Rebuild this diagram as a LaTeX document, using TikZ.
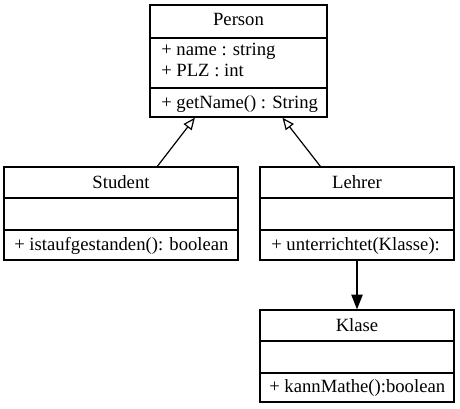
\documentclass[tikz,border=0pt]{standalone}
\usepackage{fontspec}
\setmainfont{Liberation Serif}
\usetikzlibrary{arrows.meta}
\begin{document}
\begin{tikzpicture}[x=0.75pt,y=-0.75pt,
  classbox/.style={draw, line width=1pt, rectangle, inner sep=0pt},
  umltext/.style={inner sep=0pt, font=\fontsize{14}{17}\selectfont},
  title/.style={umltext, anchor=base},
  member/.style={umltext, anchor=base west},
  divider/.style={line width=1pt},
  inherit/.style={line width=0.9pt, -{Triangle[open, length=9pt, width=7.5pt]}},
  assoc/.style={line width=0.9pt, -{Triangle[length=11pt, width=8.5pt]}}]
\useasboundingbox (0,0) rectangle (460,409);
% Person
\node[classbox, minimum width={177*0.75pt}, minimum height={112*0.75pt}] (person) at (238.5,61) {};
\draw[divider] (150,38) -- (327,38);
\draw[divider] (150,88) -- (327,88);
\node[title] (persont) at (238.5,26) {Person};
\node[member] (pa1) at (161,56) {+ name : string};
\node[member] (pa2) at (161,77) {+ PLZ : int};
\node[member] (pm1) at (161,109) {+ getName() : String};
% Student
\node[classbox, minimum width={234*0.75pt}, minimum height={93*0.75pt}] (student) at (121,213.5) {};
\draw[divider] (4,198) -- (238,198);
\draw[divider] (4,230) -- (238,230);
\node[title] (studentt) at (121,188.5) {Student};
\node[member] (sm1) at (14,251) {+ istaufgestanden(): boolean};
% Lehrer
\node[classbox, minimum width={194*0.75pt}, minimum height={93*0.75pt}] (lehrer) at (357,213.5) {};
\draw[divider] (260,198) -- (454,198);
\draw[divider] (260,230) -- (454,230);
\node[title] (lehrert) at (357,188.5) {Lehrer};
\node[member] (lm1) at (271,251) {+ unterrichtet(Klasse):};
% Klase
\node[classbox, minimum width={194*0.75pt}, minimum height={92*0.75pt}] (klase) at (357,356) {};
\draw[divider] (260,341) -- (454,341);
\draw[divider] (260,373) -- (454,373);
\node[title] (klaset) at (357,331) {Klase};
\node[member] (km1) at (269,392) {+ kannMathe():boolean};
% connectors
\draw[inherit] (student) -- (person);
\draw[inherit] (lehrer) -- (person);
\draw[assoc] (lehrer) -- (klase);
\end{tikzpicture}
\end{document}
